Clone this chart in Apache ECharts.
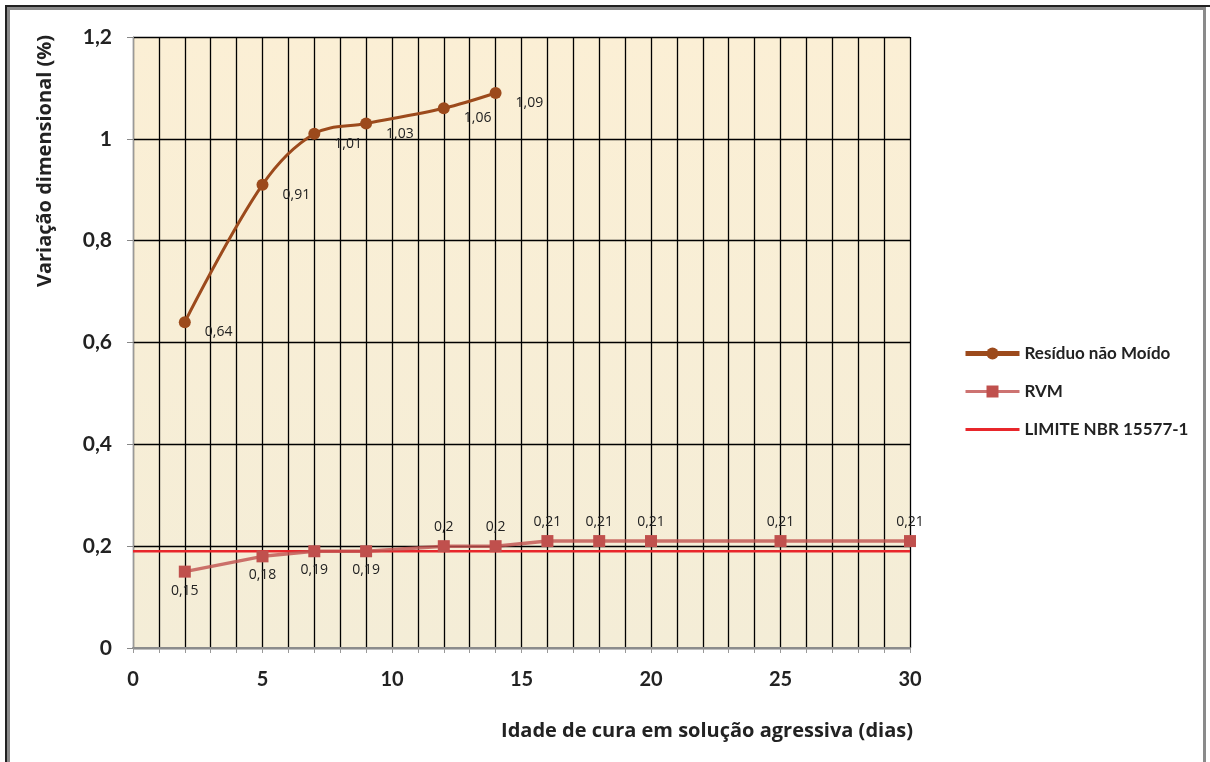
<!DOCTYPE html>
<html>
<head>
<meta charset="utf-8">
<script src="https://cdn.jsdelivr.net/npm/echarts@6/dist/echarts.min.js"></script>
<style>
html,body{margin:0;padding:0;background:#fff;}
#frame{position:absolute;left:5px;top:5px;width:1205px;height:757px;border-top:2px solid #222;border-left:2px solid #222;box-sizing:border-box;}
#frame2{position:absolute;left:0;top:0;width:1199px;height:760px;border-top:3px solid #8a8a8a;border-left:3px solid #8a8a8a;border-right:3px solid #8a8a8a;box-sizing:border-box;}
#chart{position:absolute;left:0;top:0;width:1210px;height:762px;}
</style>
</head>
<body>
<div id="frame"><div id="frame2"></div></div>
<div id="chart"></div>
<script>
// ---- data ----
const residuoDias = [2, 5, 7, 9, 12, 14];
const residuoValores = [0.64, 0.91, 1.01, 1.03, 1.06, 1.09];
const rvmDias = [2, 5, 7, 9, 12, 14, 16, 18, 20, 25, 30];
const rvmValores = [0.15, 0.18, 0.19, 0.19, 0.2, 0.2, 0.21, 0.21, 0.21, 0.21, 0.21];
const limiteDias = [0, 30];
const limiteValores = [0.19, 0.19];
const seriesNames = ['Resíduo não Moído', 'RVM', 'LIMITE NBR 15577-1'];
const xTitle = 'Idade de cura em solução agressiva (dias)';
const yTitle = 'Variação dimensional (%)';

const fmt = v => String(Math.round(v * 100) / 100).replace('.', ',');
const pairs = (xs, ys) => xs.map((x, i) => [x, ys[i]]);

const chart = echarts.init(document.getElementById('chart'));
const labelFont = {fontFamily: 'Open Sans', fontSize: 14, color: '#222'};
const brown = '#9c4a1c';
const rvmColor = '#c0504d';
const limitColor = '#e8262b';

chart.setOption({
  animation: false,
  textStyle: {fontFamily: 'Lato'},
  grid: {
    left: 133, right: 300, top: 37, bottom: 114, show: true,
    borderWidth: 0,
    backgroundColor: {type: 'linear', x: 0, y: 0, x2: 0, y2: 1,
      colorStops: [{offset: 0, color: '#fbefd5'}, {offset: 1, color: '#f4edd7'}]}
  },
  xAxis: {
    type: 'value', min: 0, max: 30, interval: 1,
    axisLine: {show: true, lineStyle: {color: '#8c8c8c', width: 2}},
    axisTick: {show: true, length: 5, lineStyle: {color: '#999'}},
    splitLine: {show: true, lineStyle: {color: '#000', width: 1.3}},
    axisLabel: {
      margin: 22, fontFamily: 'Lato', fontWeight: 'bold', fontSize: 20, color: '#222',
      formatter: v => (v % 5 === 0 ? String(v) : ''),
      showMinLabel: true, showMaxLabel: true, hideOverlap: false
    }
  },
  yAxis: {
    type: 'value', min: 0, max: 1.2, interval: 0.2,
    axisLine: {show: true, lineStyle: {color: '#999', width: 1}},
    axisTick: {show: true, length: 6, lineStyle: {color: '#888'}},
    splitLine: {show: true, lineStyle: {color: '#000', width: 1.3}},
    axisLabel: {
      margin: 21, fontFamily: 'Lato', fontWeight: 'bold', fontSize: 21, color: '#222',
      formatter: v => fmt(v)
    }
  },
  legend: {
    orient: 'vertical', left: 958, top: 340,
    itemWidth: 54, itemHeight: 15, itemGap: 21,
    data: [
      {name: seriesNames[0], lineStyle: {width: 5}},
      {name: seriesNames[1], lineStyle: {width: 3}},
      {name: seriesNames[2], lineStyle: {width: 3}, itemStyle: {opacity: 0}}
    ],
    textStyle: {fontFamily: 'Lato', fontWeight: 'bold', fontSize: 17, color: '#222'}
  },
  graphic: [
    {type: 'text', x: 45, y: 161, rotation: Math.PI / 2,
      style: {text: yTitle, fontFamily: 'Open Sans', fontWeight: 'bold', fontSize: 20, fill: '#222',
        align: 'center', verticalAlign: 'middle'}},
    {type: 'text', x: 707, y: 731,
      style: {text: xTitle, fontFamily: 'Open Sans', fontWeight: 'bold', fontSize: 20, fill: '#222',
        align: 'center', verticalAlign: 'middle'}}
  ],
  series: [
    {
      name: seriesNames[2], type: 'line', z: 3,
      data: pairs(limiteDias, limiteValores),
      symbol: 'none',
      lineStyle: {color: limitColor, width: 2.5},
      itemStyle: {color: limitColor}
    },
    {
      name: seriesNames[1], type: 'line', z: 4,
      data: pairs(rvmDias, rvmValores).map(p => ({
        value: p,
        label: {position: p[1] < 0.2 ? 'bottom' : 'top'}
      })),
      symbol: 'rect', symbolSize: 12,
      lineStyle: {color: 'rgba(192,80,77,0.8)', width: 3.5},
      itemStyle: {color: rvmColor},
      label: Object.assign({show: true, distance: 6, formatter: p => fmt(p.value[1])}, labelFont)
    },
    {
      name: seriesNames[0], type: 'line', z: 5,
      data: pairs(residuoDias, residuoValores),
      smooth: 0.35,
      symbol: 'circle', symbolSize: 12,
      lineStyle: {color: brown, width: 3},
      itemStyle: {color: brown},
      label: Object.assign({show: true, position: 'right', distance: 14, offset: [0, 10],
        formatter: p => fmt(p.value[1])}, labelFont)
    }
  ]
});
</script>
</body>
</html>
